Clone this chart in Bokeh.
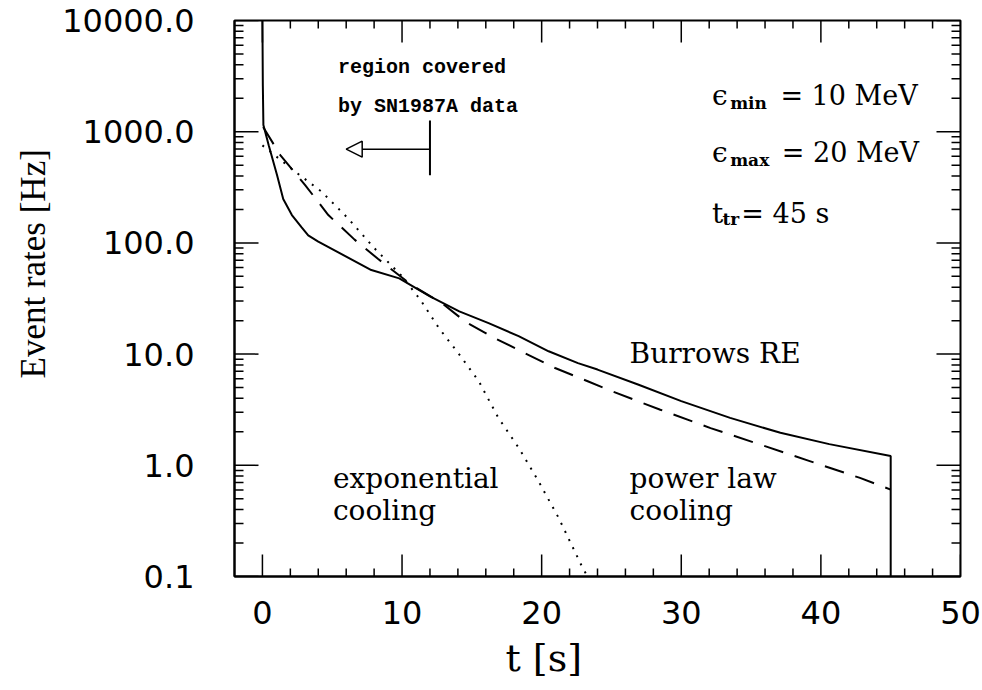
import math
from bokeh.plotting import figure
from bokeh.models import (Range1d, FixedTicker, PrintfTickFormatter, Title, Arrow, NormalHead,
                          ColumnDataSource)
from bokeh.core.properties import value
from bokeh.embed import file_html
from bokeh.resources import INLINE

# ---------------- data ----------------
t_burrows = [0.0, 0.03, 0.07, 0.45, 1.05, 1.49, 2.11, 2.81, 3.28, 4.0, 7.8, 9.8, 12.0,
             14.1, 16.2, 18.35, 20.5, 22.6, 24.0, 26.9, 30.0, 33.5, 37.1, 40.6, 45.0, 45.0]
rate_burrows = [10000, 2600, 1150, 754, 405, 248, 178, 138, 117, 102.6, 57, 48, 33,
                24.2, 19.0, 14.5, 10.6, 8.3, 7.26, 5.33, 3.78, 2.67, 1.96, 1.55, 1.21, 0.1]

t_power = [0.05, 1.28, 3.06, 4.72, 6.6, 8.27, 10.7, 12.9, 14.55, 16.7, 18.8, 20.96,
           23.3, 25.1, 28.5, 32.1, 35.7, 39.2, 42.8, 45.0]
rate_power = [1100, 616, 331, 178, 107, 72, 41.7, 28.5, 19.5, 13.8, 10.2, 7.5,
              5.7, 4.6, 3.16, 2.16, 1.53, 1.09, 0.77, 0.605]

t_exp = [0.0, 2.35, 4.25, 6.14, 8.04, 9.94, 11.3, 12.66, 14.08, 15.5, 16.9, 18.35,
         19.77, 21.2, 22.97, 23.3]
rate_exp = [753, 437, 288, 166, 89, 51, 31, 17.0, 10.0, 5.7, 2.67, 1.44,
            0.72, 0.34, 0.117, 0.1]

x_lim = (-2, 50)
y_lim = (0.1, 10000)
x_ticks = [0, 10, 20, 30, 40, 50]
x_minor_ticks = [2, 4, 6, 8, 12, 14, 16, 18, 22, 24, 26, 28, 32, 34, 36, 38,
                 42, 44, 46, 48]
y_ticks = [0.1, 1, 10, 100, 1000, 10000]
y_minor_ticks = [m * 10.0 ** e for e in range(-1, 4) for m in range(2, 10)]

x_label = "t [s]"
y_label = "Event rates [Hz]"

# annotation texts and positions (t, rate)
note_text = ["region covered", "by SN1987A data"]
note_x = [5.41, 5.41]
note_y = [3780, 1670]

curve_text = ["Burrows RE", "power law", "cooling", "exponential", "cooling"]
curve_x = [26.3, 26.3, 26.3, 5.05, 5.05]
curve_y = [10.1, 0.762, 0.392, 0.762, 0.392]

param_main = ["\u03f5", "\u03f5", "t"]
param_main_x = [32.2, 32.2, 32.2]
param_main_y = [2100, 650, 185]
param_sub = ["min", "max", "tr"]
param_sub_x = [33.5, 33.5, 32.95]
param_sub_y = [1830, 560, 163]
param_rest = ["= 10 MeV", "= 20 MeV", "= 45 s"]
param_rest_x = [37.1, 37.2, 34.3]
param_rest_y = [2100, 650, 185]

arrow_t_from, arrow_t_to, arrow_rate = 12.0, 6.0, 697
bar_rate_lo, bar_rate_hi = 405, 1260

# ---------------- layout ----------------
W, H = 982, 690
B_LEFT, B_RIGHT, B_TOP, B_BOTTOM = 234, 22, 20, 114
frame_w = W - B_LEFT - B_RIGHT
frame_h = H - B_TOP - B_BOTTOM
px_per_t = frame_w / (x_lim[1] - x_lim[0])
px_per_decade = frame_h / math.log10(y_lim[1] / y_lim[0])
MAJOR_X, MINOR_X = 22, 8      # tick lengths (px) on bottom/top
MAJOR_Y, MINOR_Y = 24, 9      # tick lengths (px) on left/right

p = figure(width=W, height=H, x_range=Range1d(*x_lim), y_range=Range1d(*y_lim),
           y_axis_type="log", output_backend="svg", toolbar_location=None,
           min_border_left=B_LEFT, min_border_right=B_RIGHT, min_border_top=B_TOP,
           min_border_bottom=B_BOTTOM)
p.grid.visible = False
p.background_fill_color = "white"
p.border_fill_color = "white"
p.outline_line_color = "black"
p.outline_line_width = 2


def style_axis(ax):
    ax.major_tick_in = 0
    ax.major_tick_out = 0
    ax.minor_tick_in = 0
    ax.minor_tick_out = 0
    ax.axis_line_width = 2
    ax.axis_line_color = "black"
    ax.major_label_text_font = "DejaVu Sans"
    ax.major_label_text_font_size = "32px"
    ax.major_label_text_color = "black"


bx = p.xaxis[0]
bx.ticker = FixedTicker(ticks=x_ticks, minor_ticks=x_minor_ticks)
style_axis(bx)
bx.major_label_standoff = 24

ly = p.yaxis[0]
ly.ticker = FixedTicker(ticks=y_ticks, minor_ticks=y_minor_ticks)
ly.formatter = PrintfTickFormatter(format="%.1f")
style_axis(ly)
ly.major_label_standoff = 40

# ---------------- curves ----------------
p.line(t_burrows, rate_burrows, line_color="black", line_width=2)
p.line(t_power, rate_power, line_color="black", line_width=2, line_dash="20 12")
p.line(t_exp, rate_exp, line_color="black", line_width=2, line_dash="2 7")

# ---------------- arrow / bar ----------------
p.segment(x0=[arrow_t_from], y0=[bar_rate_lo], x1=[arrow_t_from], y1=[bar_rate_hi],
          line_color="black", line_width=2)
p.add_layout(Arrow(end=NormalHead(size=16, fill_color="white", line_color="black",
                                  line_width=1.5),
                   x_start=arrow_t_from, y_start=arrow_rate, x_end=arrow_t_to,
                   y_end=arrow_rate, line_color="black", line_width=1.5))

# ---------------- texts ----------------
p.text(x=note_x, y=note_y, text=note_text, text_font=value("Liberation Mono"),
       text_font_style="bold", text_font_size="20px", text_color="black",
       text_baseline="alphabetic", text_align="left")
p.text(x=curve_x, y=curve_y, text=curve_text, text_font=value("DejaVu Serif"),
       text_font_size="28px", text_color="black", text_baseline="alphabetic",
       text_align="left")
p.text(x=param_main_x, y=param_main_y, text=param_main, text_font=value("DejaVu Serif"),
       text_font_size="28px", text_color="black", text_baseline="alphabetic",
       text_align="left")
p.text(x=param_sub_x, y=param_sub_y, text=param_sub, text_font=value("DejaVu Serif"),
       text_font_style="bold", text_font_size="17px", text_color="black",
       text_baseline="alphabetic", text_align="left")
p.text(x=param_rest_x, y=param_rest_y, text=param_rest, text_font=value("DejaVu Serif"),
       text_font_size="27px", text_color="black", text_baseline="alphabetic",
       text_align="left")

# ---------------- inward ticks on all four sides (headless arrow annotations) -----
tx0, ty0, tx1, ty1 = [], [], [], []
for xs, length in ((x_ticks, MAJOR_X), (x_minor_ticks, MINOR_X)):
    f = 10 ** (length / px_per_decade)
    for x in xs:
        tx0 += [x, x]
        tx1 += [x, x]
        ty0 += [y_lim[0], y_lim[1]]
        ty1 += [y_lim[0] * f, y_lim[1] / f]
for ys, length in ((y_ticks, MAJOR_Y), (y_minor_ticks, MINOR_Y)):
    d = length / px_per_t
    for y in ys:
        tx0 += [x_lim[0], x_lim[1]]
        tx1 += [x_lim[0] + d, x_lim[1] - d]
        ty0 += [y, y]
        ty1 += [y, y]
tick_src = ColumnDataSource(data=dict(x0=tx0, y0=ty0, x1=tx1, y1=ty1))
p.add_layout(Arrow(end=None, source=tick_src, x_start="x0", y_start="y0",
                   x_end="x1", y_end="y1", line_color="black", line_width=1.5))

# axis titles (offset like the reference, not centred on the frame)
p.add_layout(Title(text=x_label, align="left", offset=271, standoff=14,
                   vertical_align="bottom",
                   text_font="DejaVu Serif", text_font_size="38px",
                   text_font_style="normal", text_color="black"), "below")
p.add_layout(Title(text=y_label, align="left", offset=198, standoff=14,
                   text_font="Liberation Serif", text_font_size="35px",
                   text_font_style="normal", text_color="black"), "left")

open("out.html", "w").write(file_html(p, INLINE))
